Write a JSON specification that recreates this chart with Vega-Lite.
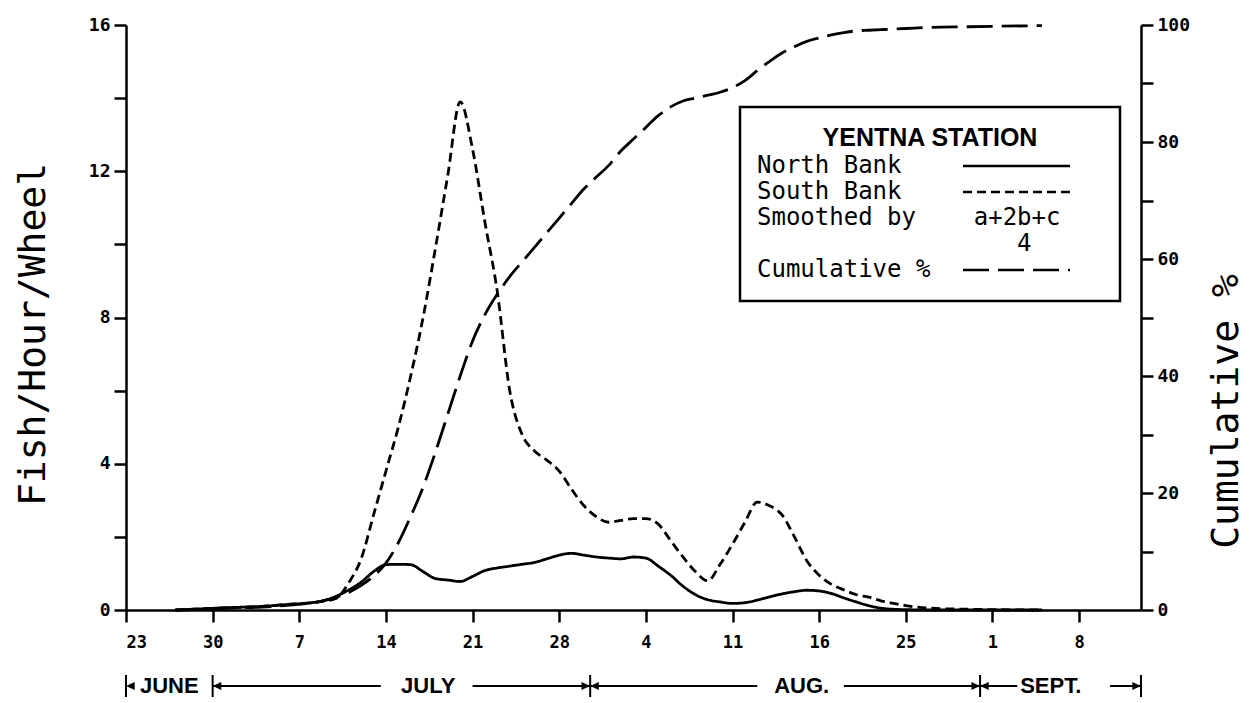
{
  "$schema": "https://vega.github.io/schema/vega-lite/v6.json",
  "background": "white",
  "padding": {"left": 14, "top": 16, "right": 5, "bottom": 5},
  "bounds": "flush",
  "spacing": 65,
  "config": {
    "view": {"stroke": null},
    "legend": {"strokeWidth": 2.5},
    "axis": {
      "grid": false,
      "domainColor": "black", "tickColor": "black", "labelColor": "black", "titleColor": "black",
      "domainWidth": 2.5, "tickWidth": 2.5,
      "labelFont": "DejaVu Sans Mono", "labelFontWeight": "bold", "labelFontSize": 18,
      "titleFont": "DejaVu Sans Mono", "titleFontWeight": "normal", "titleFontSize": 38
    }
  },
  "datasets": {
    "escapement": [
      {"date": "1984-06-27", "North Bank": 0, "South Bank": 0, "Cumulative %": 0},
      {"date": "1984-06-29", "North Bank": 0.03, "South Bank": 0.03, "Cumulative %": 0.1},
      {"date": "1984-07-01", "North Bank": 0.06, "South Bank": 0.06, "Cumulative %": 0.3},
      {"date": "1984-07-04", "North Bank": 0.1, "South Bank": 0.1, "Cumulative %": 0.5},
      {"date": "1984-07-06", "North Bank": 0.15, "South Bank": 0.15, "Cumulative %": 0.8},
      {"date": "1984-07-08", "North Bank": 0.2, "South Bank": 0.2, "Cumulative %": 1.2},
      {"date": "1984-07-09", "North Bank": 0.26, "South Bank": 0.24, "Cumulative %": 1.6},
      {"date": "1984-07-10", "North Bank": 0.38, "South Bank": 0.32, "Cumulative %": 2.2},
      {"date": "1984-07-11", "North Bank": 0.55, "South Bank": 0.75, "Cumulative %": 3.0},
      {"date": "1984-07-12", "North Bank": 0.76, "South Bank": 1.4, "Cumulative %": 4.2},
      {"date": "1984-07-13", "North Bank": 1.05, "South Bank": 2.6, "Cumulative %": 5.8},
      {"date": "1984-07-14", "North Bank": 1.24, "South Bank": 3.8, "Cumulative %": 8.0},
      {"date": "1984-07-15", "North Bank": 1.25, "South Bank": 5.0, "Cumulative %": 11.5},
      {"date": "1984-07-16", "North Bank": 1.24, "South Bank": 6.4, "Cumulative %": 16},
      {"date": "1984-07-17", "North Bank": 1.05, "South Bank": 8.0, "Cumulative %": 21},
      {"date": "1984-07-18", "North Bank": 0.86, "South Bank": 9.9, "Cumulative %": 27},
      {"date": "1984-07-19", "North Bank": 0.82, "South Bank": 11.9, "Cumulative %": 33.5},
      {"date": "1984-07-20", "North Bank": 0.78, "South Bank": 13.9, "Cumulative %": 40},
      {"date": "1984-07-21", "North Bank": 0.92, "South Bank": 12.6, "Cumulative %": 46},
      {"date": "1984-07-22", "North Bank": 1.08, "South Bank": 10.6, "Cumulative %": 50.5},
      {"date": "1984-07-23", "North Bank": 1.15, "South Bank": 8.7, "Cumulative %": 54},
      {"date": "1984-07-24", "North Bank": 1.2, "South Bank": 6.0, "Cumulative %": 57},
      {"date": "1984-07-25", "North Bank": 1.25, "South Bank": 4.8, "Cumulative %": 59.5},
      {"date": "1984-07-26", "North Bank": 1.3, "South Bank": 4.35, "Cumulative %": 62},
      {"date": "1984-07-27", "North Bank": 1.4, "South Bank": 4.1, "Cumulative %": 64.5},
      {"date": "1984-07-28", "North Bank": 1.5, "South Bank": 3.8, "Cumulative %": 67},
      {"date": "1984-07-29", "North Bank": 1.55, "South Bank": 3.3, "Cumulative %": 69.5},
      {"date": "1984-07-30", "North Bank": 1.5, "South Bank": 2.85, "Cumulative %": 72},
      {"date": "1984-07-31", "North Bank": 1.45, "South Bank": 2.55, "Cumulative %": 74},
      {"date": "1984-08-01", "North Bank": 1.42, "South Bank": 2.4, "Cumulative %": 76},
      {"date": "1984-08-02", "North Bank": 1.4, "South Bank": 2.45, "Cumulative %": 78.5},
      {"date": "1984-08-03", "North Bank": 1.45, "South Bank": 2.5, "Cumulative %": 80.5},
      {"date": "1984-08-04", "North Bank": 1.42, "South Bank": 2.5, "Cumulative %": 82.5},
      {"date": "1984-08-05", "North Bank": 1.2, "South Bank": 2.35, "Cumulative %": 84.5},
      {"date": "1984-08-06", "North Bank": 0.95, "South Bank": 1.9, "Cumulative %": 86},
      {"date": "1984-08-07", "North Bank": 0.65, "South Bank": 1.45, "Cumulative %": 87},
      {"date": "1984-08-08", "North Bank": 0.42, "South Bank": 1.05, "Cumulative %": 87.5},
      {"date": "1984-08-09", "North Bank": 0.28, "South Bank": 0.8, "Cumulative %": 88},
      {"date": "1984-08-10", "North Bank": 0.22, "South Bank": 1.25, "Cumulative %": 88.5},
      {"date": "1984-08-11", "North Bank": 0.18, "South Bank": 1.8, "Cumulative %": 89.3},
      {"date": "1984-08-12", "North Bank": 0.2, "South Bank": 2.4, "Cumulative %": 90.5},
      {"date": "1984-08-13", "North Bank": 0.27, "South Bank": 2.95, "Cumulative %": 92.2},
      {"date": "1984-08-14", "North Bank": 0.36, "South Bank": 2.85, "Cumulative %": 93.8},
      {"date": "1984-08-15", "North Bank": 0.44, "South Bank": 2.6, "Cumulative %": 95.2},
      {"date": "1984-08-16", "North Bank": 0.5, "South Bank": 2.0, "Cumulative %": 96.3},
      {"date": "1984-08-17", "North Bank": 0.54, "South Bank": 1.35, "Cumulative %": 97.2},
      {"date": "1984-08-18", "North Bank": 0.52, "South Bank": 0.95, "Cumulative %": 97.8},
      {"date": "1984-08-19", "North Bank": 0.45, "South Bank": 0.7, "Cumulative %": 98.3},
      {"date": "1984-08-20", "North Bank": 0.33, "South Bank": 0.55, "Cumulative %": 98.7},
      {"date": "1984-08-21", "North Bank": 0.22, "South Bank": 0.42, "Cumulative %": 99.0},
      {"date": "1984-08-22", "North Bank": 0.12, "South Bank": 0.35, "Cumulative %": 99.1},
      {"date": "1984-08-23", "North Bank": 0.05, "South Bank": 0.25, "Cumulative %": 99.2},
      {"date": "1984-08-24", "North Bank": 0.02, "South Bank": 0.18, "Cumulative %": 99.3},
      {"date": "1984-08-25", "North Bank": 0.01, "South Bank": 0.12, "Cumulative %": 99.4},
      {"date": "1984-08-27", "North Bank": 0, "South Bank": 0.05, "Cumulative %": 99.6},
      {"date": "1984-08-30", "North Bank": 0, "South Bank": 0.02, "Cumulative %": 99.7},
      {"date": "1984-09-05", "North Bank": 0, "South Bank": 0, "Cumulative %": 99.9}
    ],
    "months": [
      {"kind": "seg", "from": "1984-06-30", "to": "1984-07-13T14:00:00Z"},
      {"kind": "seg", "from": "1984-07-21", "to": "1984-07-30T12:00:00Z"},
      {"kind": "seg", "from": "1984-07-30T12:00:00Z", "to": "1984-08-13"},
      {"kind": "seg", "from": "1984-08-20", "to": "1984-08-31"},
      {"kind": "seg", "from": "1984-08-31", "to": "1984-09-03"},
      {"kind": "seg", "from": "1984-09-10T12:00:00Z", "to": "1984-09-13"},
      {"kind": "bar", "from": "1984-06-23"},
      {"kind": "bar", "from": "1984-06-30"},
      {"kind": "bar", "from": "1984-07-30T12:00:00Z"},
      {"kind": "bar", "from": "1984-08-31"},
      {"kind": "bar", "from": "1984-09-13"},
      {"kind": "tipL", "from": "1984-06-23"},
      {"kind": "tipL", "from": "1984-06-30"},
      {"kind": "tipL", "from": "1984-07-30T12:00:00Z"},
      {"kind": "tipL", "from": "1984-08-31"},
      {"kind": "tipR", "from": "1984-07-30T12:00:00Z"},
      {"kind": "tipR", "from": "1984-08-31"},
      {"kind": "tipR", "from": "1984-09-13"},
      {"kind": "label", "from": "1984-06-26T12:00:00Z", "label": "JUNE"},
      {"kind": "label", "from": "1984-07-17T10:00:00Z", "label": "JULY"},
      {"kind": "label", "from": "1984-08-16T14:00:00Z", "label": "AUG."},
      {"kind": "label", "from": "1984-09-05T17:00:00Z", "label": "SEPT."}
    ]
  },
  "resolve": {"legend": {"strokeDash": "independent"}},
  "vconcat": [
    {
      "width": 1015,
      "height": 585,
      "resolve": {"scale": {"y": "independent"}},
      "layer": [
        {
          "data": {"name": "escapement"},
          "transform": [{"fold": ["North Bank", "South Bank"], "as": ["series", "value"]}],
          "mark": {"type": "line", "color": "black", "strokeWidth": 2.8, "interpolate": "monotone"},
          "encoding": {
            "x": {
              "field": "date", "type": "temporal",
              "scale": {"type": "utc", "nice": false, "domain": [{"year": 1984, "month": 6, "date": 23, "utc": true}, {"year": 1984, "month": 9, "date": 13, "utc": true}]},
              "axis": {
                "title": null, "format": "%-d",
                "values": [
                  {"year": 1984, "month": 6, "date": 23, "utc": true},
                  {"year": 1984, "month": 6, "date": 30, "utc": true},
                  {"year": 1984, "month": 7, "date": 7, "utc": true},
                  {"year": 1984, "month": 7, "date": 14, "utc": true},
                  {"year": 1984, "month": 7, "date": 21, "utc": true},
                  {"year": 1984, "month": 7, "date": 28, "utc": true},
                  {"year": 1984, "month": 8, "date": 4, "utc": true},
                  {"year": 1984, "month": 8, "date": 11, "utc": true},
                  {"year": 1984, "month": 8, "date": 18, "utc": true},
                  {"year": 1984, "month": 8, "date": 25, "utc": true},
                  {"year": 1984, "month": 9, "date": 1, "utc": true},
                  {"year": 1984, "month": 9, "date": 8, "utc": true}
                ],
                "labelExpr": "datum.label == '18' ? '16' : datum.label",
                "tickSize": 12, "labelPadding": 12, "labelFontSize": 17
              }
            },
            "y": {
              "field": "value", "type": "quantitative",
              "scale": {"domain": [0, 16], "nice": false},
              "axis": {
                "values": [0, 2, 4, 6, 8, 10, 12, 14, 16],
                "labelExpr": "datum.value % 4 == 0 ? datum.label : ''",
                "tickSize": 12, "labelPadding": 4,
                "title": "Fish/Hour/Wheel", "titlePadding": 36, "titleY": 309
              }
            },
            "strokeDash": {
              "field": "series", "type": "nominal",
              "scale": {
                "domain": ["North Bank", "South Bank", "Smoothed by (a+2b+c)/4", "Cumulative %"],
                "range": [[1, 0], [9, 5], [0, 1000], [26, 9]]
              },
              "legend": {
                "title": "YENTNA STATION",
                "orient": "none", "legendX": 614, "legendY": 82,
                "direction": "vertical",
                "strokeColor": "black", "fillColor": "white", "padding": 19,
                "titleFont": "Liberation Sans", "titleFontWeight": "bold", "titleFontSize": 25, "titleColor": "black", "titleAnchor": "middle", "titlePadding": 3, "titleLimit": 500,
                "labelFont": "DejaVu Sans Mono", "labelFontSize": 24, "labelColor": "black", "labelLimit": 600,
                "labelAlign": "left", "labelOffset": -26,
                "symbolType": "M48,0L74.75,0M81.25,0", "symbolSize": 64, "symbolStrokeWidth": 2.5, "symbolStrokeColor": "black", "symbolFillColor": "transparent",
                "rowPadding": 2,
                "labelExpr": "datum.value == 'Smoothed by (a+2b+c)/4' ? ['Smoothed by\u00a0\u00a0\u00a0\u00a0a+2b+c', '\u200b\u00a0\u00a0\u00a0\u00a0\u00a0\u00a0\u00a0\u00a0\u00a0\u00a0\u00a0\u00a0\u00a0\u00a0\u00a0\u00a0\u00a0\u00a04'] : datum.label"
              }
            }
          }
        },
        {
          "data": {"name": "escapement"},
          "mark": {"type": "line", "color": "black", "strokeWidth": 2.8, "interpolate": "monotone"},
          "encoding": {
            "x": {"field": "date", "type": "temporal"},
            "y": {
              "field": "Cumulative %", "type": "quantitative",
              "scale": {"domain": [0, 100], "nice": false},
              "axis": {
                "orient": "right",
                "values": [0, 10, 20, 30, 40, 50, 60, 70, 80, 90, 100],
                "labelExpr": "datum.value % 20 == 0 ? datum.label : ''",
                "tickSize": 12, "labelPadding": 4,
                "title": "Cumulative %", "titleAngle": 270, "titleBaseline": "top", "titlePadding": 18, "titleY": 386
              }
            },
            "strokeDash": {"datum": "Cumulative %", "type": "nominal"}
          }
        }
      ]
    },
    {
      "width": 1015,
      "height": 22,
      "data": {"name": "months"},
      "encoding": {
        "x": {
          "field": "from", "type": "temporal",
          "scale": {"type": "utc", "nice": false, "domain": [{"year": 1984, "month": 6, "date": 23, "utc": true}, {"year": 1984, "month": 9, "date": 13, "utc": true}]},
          "axis": null
        },
        "y": {"datum": 0, "type": "quantitative", "scale": {"domain": [-1, 1]}, "axis": null}
      },
      "layer": [
        {
          "transform": [{"filter": "datum.kind == 'seg'"}],
          "mark": {"type": "rule", "color": "black", "strokeWidth": 2},
          "encoding": {"x2": {"field": "to"}}
        },
        {
          "transform": [{"filter": "datum.kind == 'bar'"}],
          "mark": {"type": "rule", "color": "black", "strokeWidth": 2},
          "encoding": {"y": {"datum": -1, "type": "quantitative"}, "y2": {"datum": 1}}
        },
        {
          "transform": [{"filter": "datum.kind == 'tipL'"}],
          "mark": {"type": "point", "shape": "M0,0L1,-0.45L1,0.45Z", "filled": true, "color": "black", "opacity": 1, "size": 300}
        },
        {
          "transform": [{"filter": "datum.kind == 'tipR'"}],
          "mark": {"type": "point", "shape": "M0,0L-1,-0.45L-1,0.45Z", "filled": true, "color": "black", "opacity": 1, "size": 300}
        },
        {
          "transform": [{"filter": "datum.kind == 'label'"}],
          "mark": {"type": "text", "font": "Liberation Sans", "fontWeight": "bold", "fontSize": 22, "color": "black", "baseline": "middle", "align": "center"},
          "encoding": {"text": {"field": "label"}}
        }
      ]
    }
  ]
}
